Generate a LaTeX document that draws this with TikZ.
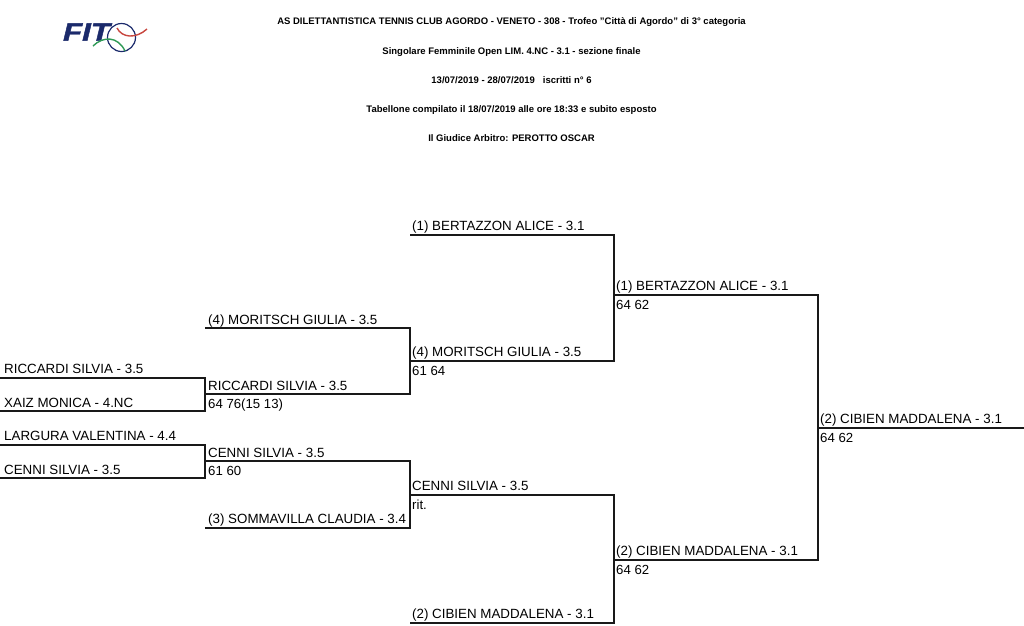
\documentclass[tikz,border=0pt]{standalone}
\usepackage{fontspec}
\setmainfont{Liberation Sans}
\usetikzlibrary{positioning}
\definecolor{fitblue}{HTML}{1B2A6B}
\definecolor{fitred}{HTML}{C8473F}
\definecolor{fitgreen}{HTML}{2F9A56}
\tikzset{
  head/.style={font=\fontsize{9.5pt}{10pt}\selectfont\bfseries, inner sep=0pt, text height=6.5pt, text depth=0pt},
  player/.style={font=\fontsize{13.35pt}{15pt}\selectfont, inner sep=0pt, text depth=0pt},
  score/.style={font=\fontsize{13.2pt}{15pt}\selectfont, inner sep=0pt, text height=9.5pt, text depth=0pt},
  line/.style={line width=1.6pt, black!90},
}
\begin{document}
\begin{tikzpicture}[x=1pt, y=-1pt, node distance=22.35pt]
  \useasboundingbox (0,0) rectangle (1024,625);

  % header
  \node (head-club) [head] at (511.5,21.7) {AS DILETTANTISTICA TENNIS CLUB AGORDO - VENETO - 308 - Trofeo \symbol{34}Città di Agordo\symbol{34} di 3° categoria};
  \node (head-open) [head, below=of head-club] {Singolare Femminile Open LIM. 4.NC - 3.1 - sezione finale};
  \node (head-date) [head, below=of head-open] {13/07/2019 - 28/07/2019 \ \ iscritti n° 6};
  \node (head-tab) [head, below=of head-date] {Tabellone compilato il 18/07/2019 alle ore 18:33 e subito esposto};
  \node (head-ref) [head, below=of head-tab] {Il Giudice Arbitro: PEROTTO OSCAR};

  % logo
  \node (logo-fit) [inner sep=0pt, text=fitblue, xscale=1.25, font=\fontsize{25pt}{25pt}\selectfont\bfseries\itshape\addfontfeature{FakeBold=1.5}] at (86.5,32) {FIT};
  \draw[fitblue, line width=1.2pt] (121.5,37.5) circle (14);
  \draw[fitred, line width=1.4pt] (117,28) .. controls (122,38) and (136,39) .. (147,29);
  \draw[fitgreen, line width=1.4pt] (93,46) .. controls (103,36) and (118,36) .. (125,51);

  % first round
  \coordinate (a1-l) at (0,378);   \coordinate (a1-r) at (205,378);
  \coordinate (a2-l) at (0,411);   \coordinate (a2-r) at (205,411);
  \coordinate (a3-l) at (0,445);   \coordinate (a3-r) at (205,445);
  \coordinate (a4-l) at (0,478);   \coordinate (a4-r) at (205,478);
  \node (a1-name) [player, above right=4pt and 4pt of a1-l] {RICCARDI SILVIA - 3.5};
  \node (a2-name) [player, above right=3.5pt and 4pt of a2-l] {XAIZ MONICA - 4.NC};
  \node (a3-name) [player, above right=4pt and 4pt of a3-l] {LARGURA VALENTINA - 4.4};
  \node (a4-name) [player, above right=3.5pt and 4pt of a4-l] {CENNI SILVIA - 3.5};
  \draw[line] (a1-l) -- (a1-r) -- (a2-r) -- (a2-l);
  \draw[line] (a3-l) -- (a3-r) -- (a4-r) -- (a4-l);

  % second round
  \coordinate (b1-l) at (205,328); \coordinate (b1-r) at (410,328);
  \coordinate (b2-l) at (205,394); \coordinate (b2-r) at (410,394);
  \coordinate (b3-l) at (205,461); \coordinate (b3-r) at (410,461);
  \coordinate (b4-l) at (205,528); \coordinate (b4-r) at (410,528);
  \node (b1-name) [player, above right=3.5pt and 3pt of b1-l] {(4) MORITSCH GIULIA - 3.5};
  \node (b2-name) [player, above right=3.5pt and 3pt of b2-l] {RICCARDI SILVIA - 3.5};
  \node (b3-name) [player, above right=3.5pt and 3pt of b3-l] {CENNI SILVIA - 3.5};
  \node (b4-name) [player, above right=4pt and 3pt of b4-l] {(3) SOMMAVILLA CLAUDIA - 3.4};
  \node (b2-score) [score, below right=5pt and 3pt of b2-l] {64 76(15 13)};
  \node (b3-score) [score, below right=5pt and 3pt of b3-l] {61 60};
  \draw[line] (b1-l) -- (b1-r) -- (b2-r) -- (b2-l);
  \draw[line] (b3-l) -- (b3-r) -- (b4-r) -- (b4-l);

  % third round
  \coordinate (c1-l) at (410,235); \coordinate (c1-r) at (614,235);
  \coordinate (c2-l) at (410,361); \coordinate (c2-r) at (614,361);
  \coordinate (c3-l) at (410,495); \coordinate (c3-r) at (614,495);
  \coordinate (c4-l) at (410,623); \coordinate (c4-r) at (614,623);
  \node (c1-name) [player, above right=4pt and 2pt of c1-l] {(1) BERTAZZON ALICE - 3.1};
  \node (c2-name) [player, above right=4pt and 2pt of c2-l] {(4) MORITSCH GIULIA - 3.5};
  \node (c3-name) [player, above right=4pt and 2pt of c3-l] {CENNI SILVIA - 3.5};
  \node (c4-name) [player, above right=4pt and 2pt of c4-l] {(2) CIBIEN MADDALENA - 3.1};
  \node (c2-score) [score, below right=5pt and 2pt of c2-l] {61 64};
  \node (c3-score) [score, below right=4.5pt and 2pt of c3-l] {rit.};
  \draw[line] (c1-l) -- (c1-r) -- (c2-r) -- (c2-l);
  \draw[line] (c3-l) -- (c3-r) -- (c4-r) -- (c4-l);

  % semifinals and final
  \coordinate (d1-l) at (614,295); \coordinate (d1-r) at (818,295);
  \coordinate (d2-l) at (614,560); \coordinate (d2-r) at (818,560);
  \coordinate (e1-l) at (818,428); \coordinate (e1-r) at (1024,428);
  \node (d1-name) [player, above right=4pt and 2pt of d1-l] {(1) BERTAZZON ALICE - 3.1};
  \node (d2-name) [player, above right=4pt and 2pt of d2-l] {(2) CIBIEN MADDALENA - 3.1};
  \node (e1-name) [player, above right=4pt and 2pt of e1-l] {(2) CIBIEN MADDALENA - 3.1};
  \node (d1-score) [score, below right=5pt and 2pt of d1-l] {64 62};
  \node (d2-score) [score, below right=5pt and 2pt of d2-l] {64 62};
  \node (e1-score) [score, below right=5pt and 2pt of e1-l] {64 62};
  \draw[line] (d1-l) -- (d1-r) -- (d2-r) -- (d2-l);
  \draw[line] (e1-l) -- (e1-r);
\end{tikzpicture}
\end{document}
